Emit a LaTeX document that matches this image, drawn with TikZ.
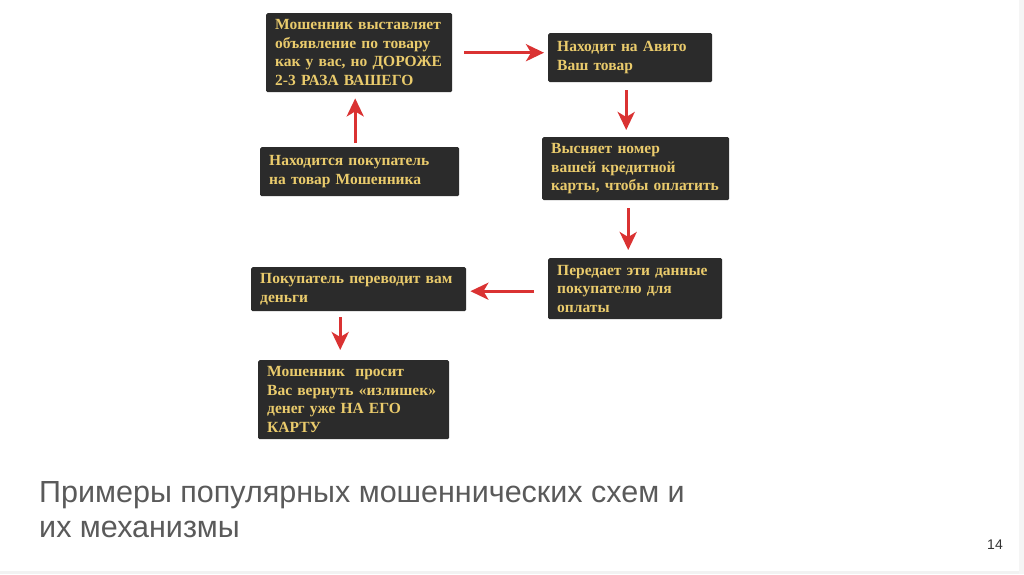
\documentclass[tikz,border=0pt]{standalone}
\usepackage{fontspec}
\setmainfont{Liberation Serif}
\newfontfamily\titlefont{Liberation Sans}
\usetikzlibrary{arrows.meta}
\definecolor{boxfill}{HTML}{2B2B2B}
\definecolor{boxtext}{HTML}{EACB6C}
\definecolor{arrred}{HTML}{DA3232}
\definecolor{titlegray}{HTML}{5A5A5A}
\tikzset{
  card/.style={anchor=north west, fill=boxfill, rounded corners=1.5pt, inner xsep=9pt, inner ysep=0pt,
    align=left, text=boxtext, font=\fontsize{15.5}{18.5}\selectfont\bfseries},
  flow/.style={draw=arrred, line width=3pt, -{Stealth[length=18pt,width=17pt,inset=5pt]}},
  titletext/.style={anchor=base west, inner sep=0pt, text=titlegray, font=\titlefont\fontsize{30.5}{35}\selectfont}
}
\begin{document}
\begin{tikzpicture}[x=1pt,y=-1pt]
\useasboundingbox (0,0) rectangle (1024,574);
\fill[white] (0,0) rectangle (1024,574);
\fill[black!5] (0,571) rectangle (1024,574);
\fill[black!4] (1019,0) rectangle (1024,574);

\node[card, text width=168pt, minimum height=79pt] (b1) at (266,13) {Мошенник выставляет\\объявление по товару\\как у вас, но ДОРОЖЕ\\2-3 РАЗА ВАШЕГО};
\node[card, text width=146pt, minimum height=49pt] (b2) at (548,33) {Находит на Авито\\Ваш товар};
\node[card, text width=169pt, minimum height=63pt] (b3) at (542,137) {Высняет номер\\вашей кредитной\\карты, чтобы оплатить};
\node[card, text width=181pt, minimum height=49pt] (b4) at (260,147) {Находится покупатель\\на товар Мошенника};
\node[card, text width=156pt, minimum height=61pt] (b5) at (548,258) {Передает эти данные\\покупателю для\\оплаты};
\node[card, text width=197pt, minimum height=44pt] (b6) at (251,267) {Покупатель переводит вам\\деньги};
\node[card, text width=173pt, minimum height=79pt] (b7) at (258,360) {Мошенник\ \ просит\\Вас вернуть «излишек»\\денег уже НА ЕГО\\КАРТУ};

\draw[flow] ([xshift=12pt]b1.east) -- ([xshift=-4pt]b1.east -| b2.west);
\draw[flow] ([xshift=-4pt,yshift=-8pt]b2.south) -- ([xshift=-4pt,yshift=7pt]b2.south |- b3.north);
\draw[flow] ([xshift=-7.5pt,yshift=-8pt]b3.south) -- ([xshift=-7.5pt,yshift=8pt]b3.south |- b5.north);
\draw[flow] ([xshift=-14pt,yshift=-2.5pt]b5.west) -- ([xshift=4pt,yshift=-2.5pt]b5.west -| b6.east);
\draw[flow] ([xshift=-18.5pt,yshift=-6pt]b6.south) -- ([xshift=-18.5pt,yshift=10pt]b6.south |- b7.north);
\draw[flow] ([xshift=-4.5pt,yshift=4pt]b4.north) -- ([xshift=-4.5pt,yshift=-6pt]b4.north |- b1.south);

\node[titletext] (t1) at (39,502) {Примеры популярных мошеннических схем и};
\node[titletext] (t2) at (39,537) {их механизмы};
\node[anchor=base west, inner sep=0pt, text=black!80, font=\titlefont\fontsize{14}{16}\selectfont] (pg) at (987,549) {14};
\end{tikzpicture}
\end{document}
